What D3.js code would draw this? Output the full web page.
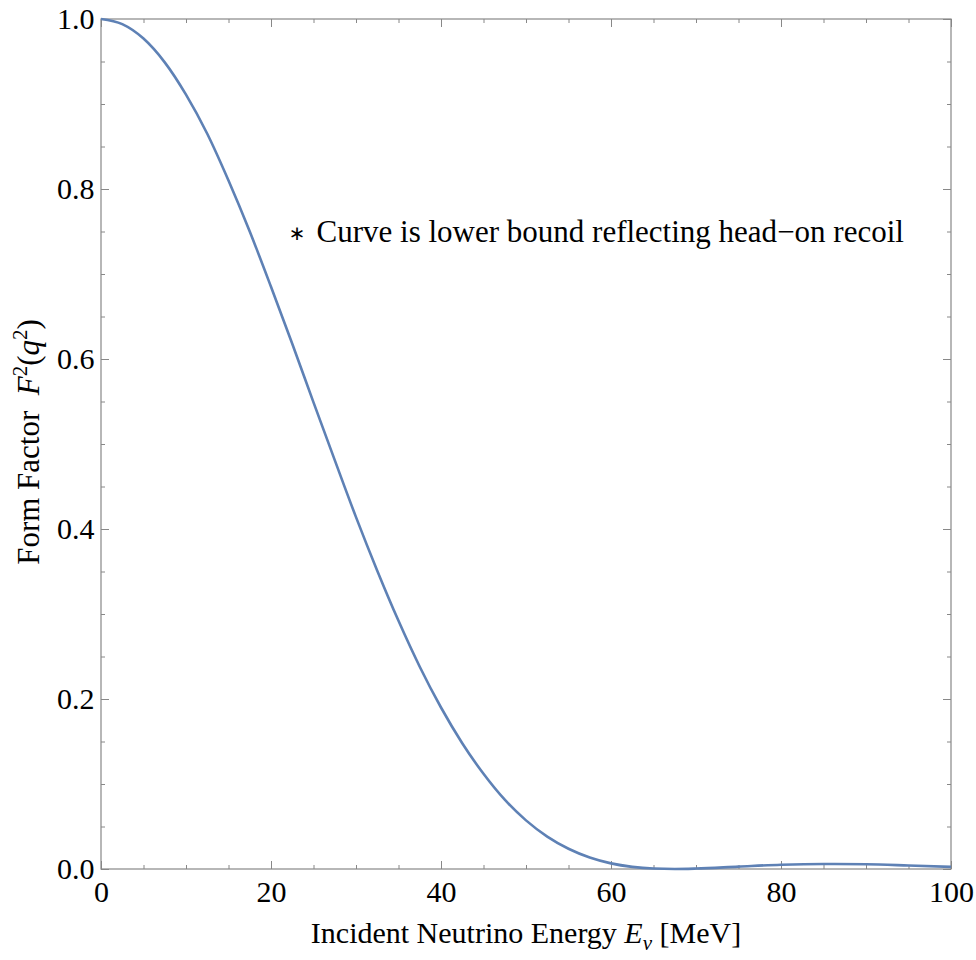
<!DOCTYPE html>
<html>
<head>
<meta charset="utf-8">
<script src="https://cdn.jsdelivr.net/npm/d3@7"></script>
<style>
  body { margin: 0; background: #fff; }
  svg text { font-family: "Liberation Serif", "Times New Roman", serif; fill: #000; font-variant-ligatures: none; }
</style>
</head>
<body>
<div id="container"></div>
<script>
// values
const energy = [0, 2.5, 5, 7.5, 10, 12.5, 15, 17.5, 20, 22.5, 25, 27.5, 30, 32.5, 35, 37.5, 40,
  42.5, 45, 47.5, 50, 52.5, 55, 57.5, 60, 62.5, 65, 67.5, 70, 75, 80, 85, 90, 95, 100];
const formFactor = [1.000, 0.994, 0.977, 0.949, 0.911, 0.865, 0.810, 0.750, 0.685, 0.618, 0.549,
  0.481, 0.414, 0.351, 0.292, 0.238, 0.190, 0.148, 0.112, 0.0815, 0.0572, 0.0381, 0.0238, 0.0135,
  0.0066, 0.0025, 0.0005, 0.0000, 0.0005, 0.0028, 0.0050, 0.0059, 0.0055, 0.0041, 0.0025];
const xTicks = [0, 20, 40, 60, 80, 100];
const yTicks = [0, 0.2, 0.4, 0.6, 0.8, 1.0];
const noteParts = ["Curve is lower bound reflecting head", "\u2212", "on recoil"];

const serif = "'Liberation Serif', 'Times New Roman', serif";
const width = 976, height = 960;
const margin = {top: 19, right: 25, bottom: 91, left: 101};

const svg = d3.select("#container").append("svg")
  .attr("width", width)
  .attr("height", height);

const x = d3.scaleLinear().domain([0, 100]).range([margin.left, width - margin.right]);
const y = d3.scaleLinear().domain([0, 1]).range([height - margin.bottom, margin.top]);

const frameColor = "#888";
const minorX = d3.range(0, 101, 5).filter(function(v) { return v % 20 !== 0; });
const minorY = d3.range(0, 21).map(function(i) { return i * 0.05; })
  .filter(function(v, i) { return i % 4 !== 0; });

function styleAxis(g) {
  g.attr("font-family", null);
  g.select(".domain").remove();
  g.selectAll("line").attr("stroke", frameColor);
  g.selectAll("text").attr("font-size", 30).style("font-family", serif);
}

// major + minor ticks on all four sides, pointing inward
const sides = [
  {axis: d3.axisBottom, scale: x, pos: "translate(0," + y(0) + ")", major: xTicks, minor: minorX, fmt: d3.format("d"), pad: 12},
  {axis: d3.axisTop, scale: x, pos: "translate(0," + y(1) + ")", major: xTicks, minor: minorX, fmt: null},
  {axis: d3.axisLeft, scale: y, pos: "translate(" + x(0) + ",0)", major: yTicks, minor: minorY, fmt: d3.format(".1f"), pad: 6.5},
  {axis: d3.axisRight, scale: y, pos: "translate(" + x(100) + ",0)", major: yTicks, minor: minorY, fmt: null}
];

sides.forEach(function(s) {
  svg.append("g")
    .attr("transform", s.pos)
    .call(s.axis(s.scale).tickValues(s.minor).tickSize(-4).tickFormat(""))
    .call(styleAxis);
  svg.append("g")
    .attr("transform", s.pos)
    .call(s.axis(s.scale).tickValues(s.major).tickSize(-8)
      .tickPadding(s.pad || 0)
      .tickFormat(s.fmt ? s.fmt : ""))
    .call(styleAxis);
});

// frame
svg.append("rect")
  .attr("x", x(0))
  .attr("y", y(1))
  .attr("width", x(100) - x(0))
  .attr("height", y(0) - y(1))
  .attr("fill", "none")
  .attr("stroke", frameColor)
  .attr("stroke-width", 1.2);

// curve
const line = d3.line()
  .x(function(d, i) { return x(energy[i]); })
  .y(function(d) { return y(d); })
  .curve(d3.curveMonotoneX);

svg.append("path")
  .datum(formFactor)
  .attr("fill", "none")
  .attr("stroke", "#5E81B5")
  .attr("stroke-width", 2.6)
  .attr("d", line);

// annotation: asterisk separate, sentence centred
svg.append("text")
  .attr("x", x(22.5) + 5)
  .attr("y", 240)
  .attr("text-anchor", "middle")
  .attr("font-size", 20)
  .style("font-family", "'DejaVu Sans', sans-serif")
  .text("\u2217");

const nt = svg.append("text")
  .attr("x", x(22.5) + 18 + 300)
  .attr("y", 242)
  .attr("text-anchor", "middle")
  .attr("font-size", 31)
  .style("font-family", serif);
nt.append("tspan").text(noteParts[0]);
nt.append("tspan").text(noteParts[1]);
nt.append("tspan").text(noteParts[2]);

// x axis title
const xt = svg.append("text")
  .attr("x", (x(0) + x(100)) / 2)
  .attr("y", 943)
  .attr("text-anchor", "middle")
  .attr("font-size", 30)
  .style("font-family", serif);
xt.append("tspan").text("Incident Neutrino Energy ");
xt.append("tspan").attr("font-style", "italic").text("E");
xt.append("tspan").attr("font-style", "italic").attr("font-size", 21).attr("dy", 7).text("\u03bd");
xt.append("tspan").attr("dy", -7).text(" [MeV]");

// y axis title
const yt = svg.append("text")
  .attr("transform", "translate(39," + ((y(0) + y(1)) / 2 - 2) + ") rotate(-90)")
  .attr("text-anchor", "middle")
  .attr("font-size", 31)
  .style("font-family", serif);
yt.append("tspan").text("Form Factor\u2002");
yt.append("tspan").attr("font-style", "italic").text("F");
yt.append("tspan").attr("font-size", 21).attr("dy", -12).text("2");
yt.append("tspan").attr("dy", 12).text("(");
yt.append("tspan").attr("font-style", "italic").text("q");
yt.append("tspan").attr("font-size", 21).attr("dy", -12).text("2");
yt.append("tspan").attr("dy", 12).text(")");
</script>
</body>
</html>
